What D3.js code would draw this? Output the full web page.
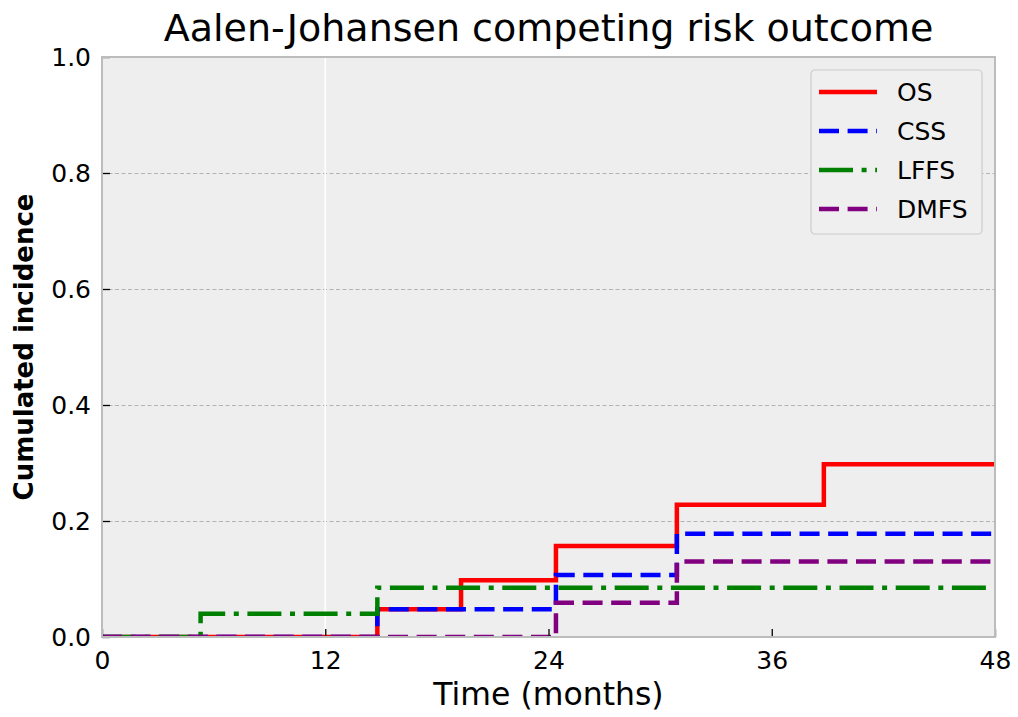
<!DOCTYPE html>
<html>
<head>
<meta charset="utf-8">
<script src="https://cdn.jsdelivr.net/npm/d3@7.9.0/dist/d3.min.js"></script>
<style>
  body { margin: 0; background: #fff; }
  svg { display: block; font-family: "DejaVu Sans", sans-serif; }
</style>
</head>
<body>
<div id="chart"></div>
<script>
// step times (months) and cumulative incidence at each step
const osTimes = [0, 14.8, 19.3, 24.4, 30.9, 38.8];
const osValues = [0, 0.048, 0.098, 0.157, 0.228, 0.298];
const cssTimes = [0, 14.8, 24.4, 30.9];
const cssValues = [0, 0.048, 0.107, 0.178];
const lffsTimes = [0, 5.3, 14.8];
const lffsValues = [0, 0.04, 0.085];
const dmfsTimes = [0, 24.4, 30.9];
const dmfsValues = [0, 0.059, 0.13];

const seriesNames = ['OS', 'CSS', 'LFFS', 'DMFS'];
const xTicks = [0, 12, 24, 36, 48];
const yTicks = [0, 0.2, 0.4, 0.6, 0.8, 1.0];
const maxTime = 48;

const width = 1018;
const height = 717;
const margin = { top: 57, right: 23, bottom: 80, left: 102 };
const plot = {
    left: margin.left,
    right: width - margin.right,
    top: margin.top,
    bottom: height - margin.bottom,
};

const styles = {
    OS: { color: 'red', dash: null },
    CSS: { color: 'blue', dash: '20,8.6' },
    LFFS: { color: 'green', dash: '34,8.6,5,8.6' },
    DMFS: { color: 'purple', dash: '20,8.6' },
};

function stepSeries(name, times, values) {
    const pts = times.map((t, i) => ({ t, v: values[i] }));
    pts.push({ t: maxTime, v: values[values.length - 1] });
    return { name, pts };
}

const series = [
    stepSeries('OS', osTimes, osValues),
    stepSeries('CSS', cssTimes, cssValues),
    stepSeries('LFFS', lffsTimes, lffsValues),
    stepSeries('DMFS', dmfsTimes, dmfsValues),
];

const svg = d3.select('#chart')
    .append('svg')
    .attr('width', width)
    .attr('height', height);

const x = d3.scaleLinear().domain([0, maxTime]).range([plot.left, plot.right]);
const y = d3.scaleLinear().domain([0, 1]).range([plot.bottom, plot.top]);

// background
svg.append('rect')
    .attr('x', plot.left)
    .attr('y', plot.top)
    .attr('width', plot.right - plot.left)
    .attr('height', plot.bottom - plot.top)
    .attr('fill', '#eeeeee');

svg.append('defs').append('clipPath')
    .attr('id', 'plot-clip')
    .append('rect')
    .attr('x', plot.left)
    .attr('y', plot.top)
    .attr('width', plot.right - plot.left)
    .attr('height', plot.bottom - plot.top);

// horizontal dashed grid
svg.append('g')
    .attr('transform', `translate(${plot.left},0)`)
    .call(d3.axisLeft(y).tickValues(yTicks.slice(1)).tickFormat('').tickSize(-(plot.right - plot.left)))
    .call(g => g.select('.domain').remove())
    .call(g => g.selectAll('line')
        .attr('stroke', '#b2b2b2')
        .attr('stroke-width', 1)
        .attr('stroke-dasharray', '4,2.5'));

// the single white vertical line at 12 months
svg.append('line')
    .attr('x1', x(12)).attr('x2', x(12))
    .attr('y1', plot.top).attr('y2', plot.bottom)
    .attr('stroke', '#ffffff')
    .attr('stroke-width', 1.5);

// step lines
const line = d3.line()
    .x(d => x(d.t))
    .y(d => y(d.v))
    .curve(d3.curveStepAfter);

svg.append('g')
    .attr('clip-path', 'url(#plot-clip)')
    .selectAll('path')
    .data(series)
    .join('path')
    .attr('d', d => line(d.pts))
    .attr('fill', 'none')
    .attr('stroke', d => styles[d.name].color)
    .attr('stroke-width', 4.5)
    .attr('stroke-dasharray', d => styles[d.name].dash);

// axes with inward ticks
const xAxis = svg.append('g')
    .attr('transform', `translate(0,${plot.bottom})`)
    .call(d3.axisBottom(x).tickValues(xTicks).tickFormat(d3.format('d')).tickSizeInner(-8).tickSizeOuter(0).tickPadding(14));

const yAxis = svg.append('g')
    .attr('transform', `translate(${plot.left},0)`)
    .call(d3.axisLeft(y).tickValues(yTicks).tickFormat(d3.format('.1f')).tickSizeInner(-8).tickSizeOuter(0).tickPadding(11));

[xAxis, yAxis].forEach(g => {
    g.select('.domain').remove();
    g.selectAll('line').attr('stroke', '#000').attr('stroke-width', 1.3);
    g.selectAll('text')
        .attr('fill', '#000')
        .style('font-family', '"DejaVu Sans", sans-serif')
        .style('font-size', '25px');
});

// frame
svg.append('rect')
    .attr('x', plot.left)
    .attr('y', plot.top)
    .attr('width', plot.right - plot.left)
    .attr('height', plot.bottom - plot.top)
    .attr('fill', 'none')
    .attr('stroke', '#bcbcbc')
    .attr('stroke-width', 2);

// title and labels
svg.append('text')
    .attr('x', (plot.left + plot.right) / 2)
    .attr('y', 41)
    .attr('text-anchor', 'middle')
    .style('font-size', '38px')
    .text('Aalen-Johansen competing risk outcome');

svg.append('text')
    .attr('x', (plot.left + plot.right) / 2)
    .attr('y', 705)
    .attr('text-anchor', 'middle')
    .style('font-size', '31.5px')
    .text('Time (months)');

svg.append('text')
    .attr('transform', `translate(33,${(plot.top + plot.bottom) / 2}) rotate(-90)`)
    .attr('text-anchor', 'middle')
    .style('font-size', '26px')
    .style('font-weight', 'bold')
    .text('Cumulated incidence');

// legend
const legend = svg.append('g').attr('transform', 'translate(811,70)');
legend.append('rect')
    .attr('width', 171)
    .attr('height', 164)
    .attr('rx', 4)
    .attr('fill', '#efefef')
    .attr('stroke', '#cccccc')
    .attr('stroke-width', 1.2);

const items = legend.selectAll('g.item')
    .data(seriesNames)
    .join('g')
    .attr('class', 'item')
    .attr('transform', (d, i) => `translate(0,${22 + i * 39})`);

items.append('line')
    .attr('x1', 8).attr('x2', 66)
    .attr('stroke', d => styles[d].color)
    .attr('stroke-width', 4.5)
    .attr('stroke-dasharray', d => styles[d].dash);

items.append('text')
    .attr('x', 86)
    .attr('dy', '0.36em')
    .style('font-size', '25px')
    .text(d => d);
</script>
</body>
</html>
